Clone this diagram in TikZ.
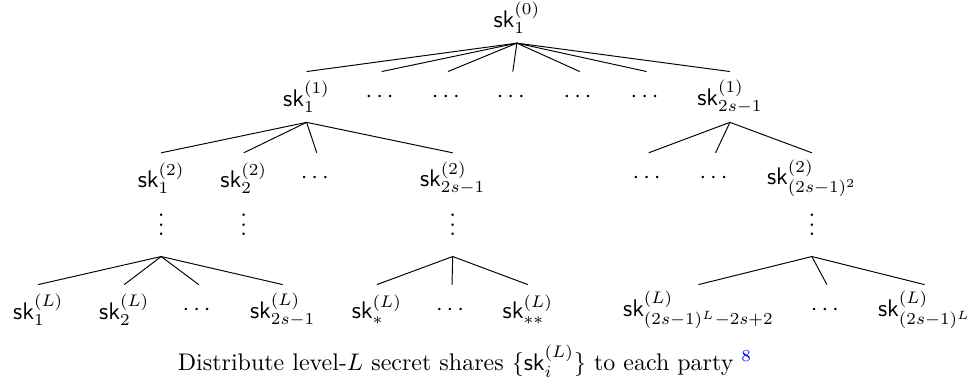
\documentclass[tikz,border=0pt]{standalone}
\usepackage{amsmath}
\usepackage{xcolor}
\newcommand{\skey}[2]{$\mathsf{sk}_{#1}^{(#2)}$}
\usepackage{tikz}
\usetikzlibrary{calc, positioning}

\begin{document}
\begin{tikzpicture}[
  lv/.style={minimum height=0.73cm, inner sep=2pt},
  vd/.style={minimum height=1.12cm, inner sep=0pt},
  br/.style={black, line width=0.4pt},
]
\useasboundingbox (0,0) rectangle (14.25,-5.58);

% Level 0: root
\node[lv] (r0) at (7.57,-0.26) {\skey{1}{0}};

% Level 1
\node[lv] (a1) at (4.49,-1.42) {\skey{1}{1}};
\node[lv] (a2) at (5.59,-1.42) {$\cdots$};
\node[lv] (a3) at (6.56,-1.42) {$\cdots$};
\node[lv] (a4) at (7.51,-1.42) {$\cdots$};
\node[lv] (a5) at (8.49,-1.42) {$\cdots$};
\node[lv] (a6) at (9.47,-1.42) {$\cdots$};
\node[lv] (a7) at (10.69,-1.42) {\skey{2s-1}{1}};

% Level 2: left and right subtrees
\node[lv] (b1) at (2.36,-2.61) {\skey{1}{2}};
\node[lv] (b2) at (3.57,-2.61) {\skey{2}{2}};
\node[lv] (b3) at (4.64,-2.61) {$\cdots$};
\node[lv] (b4) at (6.63,-2.61) {\skey{2s-1}{2}};
\node[lv] (c1) at (9.50,-2.61) {$\cdots$};
\node[lv] (c2) at (10.48,-2.61) {$\cdots$};
\node[lv] (c3) at (11.89,-2.61) {\skey{(2s-1)^2}{2}};

% Vertical dots
\node[vd] (v1) at (2.36,-3.19) {$\vdots$};
\node[vd] (v2) at (3.57,-3.19) {$\vdots$};
\node[vd] (v3) at (6.63,-3.19) {$\vdots$};
\node[vd] (v4) at (11.89,-3.19) {$\vdots$};

% Level L: leaves
\node[lv] (d1) at (0.56,-4.54) {\skey{1}{L}};
\node[lv] (d2) at (1.82,-4.54) {\skey{2}{L}};
\node[lv] (d3) at (2.91,-4.54) {$\cdots$};
\node[lv] (d4) at (4.14,-4.54) {\skey{2s-1}{L}};
\node[lv] (e1) at (5.52,-4.54) {\skey{*}{L}};
\node[lv] (e2) at (6.62,-4.54) {$\cdots$};
\node[lv] (e3) at (7.73,-4.54) {\skey{**}{L}};
\node[lv] (f1) at (10.23,-4.54) {\skey{(2s-1)^L-2s+2}{L}};
\node[lv] (f2) at (12.11,-4.54) {$\cdots$};
\node[lv] (f3) at (13.54,-4.54) {\skey{(2s-1)^L}{L}};

% Branches
\draw[br] (r0.south) -- (a1.north); \draw[br] (r0.south) -- (a2.north);
\draw[br] (r0.south) -- (a3.north); \draw[br] (r0.south) -- (a4.north);
\draw[br] (r0.south) -- (a5.north); \draw[br] (r0.south) -- (a6.north);
\draw[br] (r0.south) -- (a7.north);
\draw[br] (a1.south) -- (b1.north); \draw[br] (a1.south) -- (b2.north);
\draw[br] (a1.south) -- (b3.north); \draw[br] (a1.south) -- (b4.north);
\draw[br] (a7.south) -- (c1.north); \draw[br] (a7.south) -- (c2.north);
\draw[br] (a7.south) -- (c3.north);
\draw[br] (v1.south) -- (d1.north); \draw[br] (v1.south) -- (d2.north);
\draw[br] (v1.south) -- (d3.north); \draw[br] (v1.south) -- (d4.north);
\draw[br] (v3.south) -- (e1.north); \draw[br] (v3.south) -- (e2.north);
\draw[br] (v3.south) -- (e3.north);
\draw[br] (v4.south) -- (f1.north); \draw[br] (v4.south) -- (f2.north);
\draw[br] (v4.south) -- (f3.north);

% Caption
\node (cap) at (6.81,-5.29) {Distribute level-$L$ secret shares $\{\mathsf{sk}_i^{(L)}\}$ to each party \textsuperscript{\textcolor{blue}{8}}};

\end{tikzpicture}
\end{document}
